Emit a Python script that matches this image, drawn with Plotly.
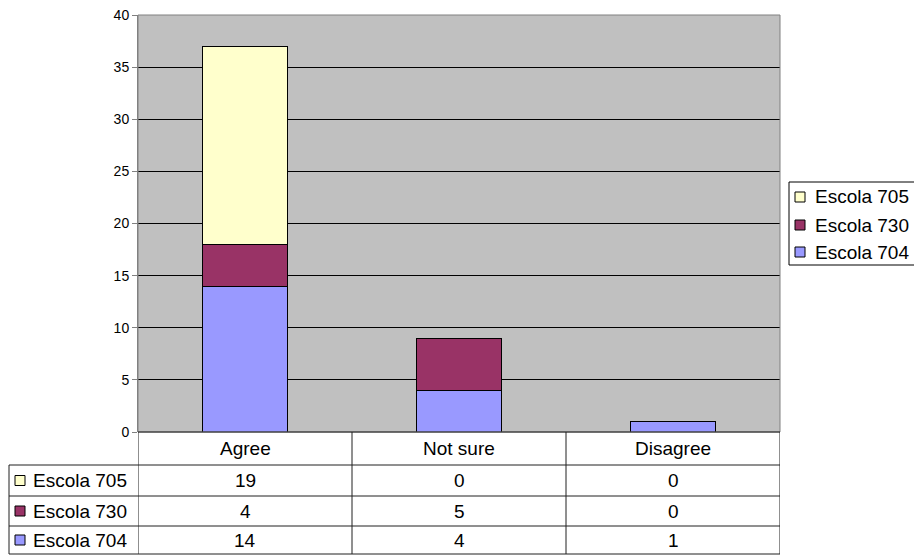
import plotly.graph_objects as go

# Survey responses per school
categories = ["Agree", "Not sure", "Disagree"]
escola_704 = [14, 4, 1]
escola_730 = [4, 5, 0]
escola_705 = [19, 0, 0]

# Stacking order bottom to top; table and legend list them top to bottom
series = [
    ("Escola 704", escola_704, "#9999FF"),
    ("Escola 730", escola_730, "#993366"),
    ("Escola 705", escola_705, "#FFFFCC"),
]
y_ticks = [0, 5, 10, 15, 20, 25, 30, 35, 40]

W, H = 914, 556
ML, MR, MT, MB = 138, 134, 15, 124
PW, PH = W - ML - MR, H - MT - MB
FONT = "Liberation Sans, Arial, sans-serif"


def px_x(px):
    return (px - ML) / PW


def px_y(py):
    return (H - MB - py) / PH


fig = go.Figure()
for name, vals, color in series:
    fig.add_trace(go.Bar(
        x=categories, y=vals, name=name, width=0.4,
        marker=dict(color=color, line=dict(color="black", width=1)),
        showlegend=False,
    ))

shapes = []
annotations = []
line_col = "#202020"


def label(x, y, text, xref="paper", xanchor="center"):
    return dict(x=x, xref=xref, y=y, yref="paper", text=text, showarrow=False,
                xanchor=xanchor, yanchor="middle",
                font=dict(size=19, color="black", family=FONT))


# Plot area frame
shapes.append(dict(type="rect", xref="paper", yref="paper", x0=0, x1=1, y0=0, y1=1,
                   line=dict(color="#808080", width=1), layer="above"))

# Data table under the chart
row_edges = [432, 465, 496, 526, 554]
table_left = 9
n = len(categories)
# horizontal rules
shapes.append(dict(type="line", xref="paper", yref="paper", x0=0, x1=1,
                   y0=px_y(row_edges[0]), y1=px_y(row_edges[0]), line=dict(color=line_col, width=1)))
for r in row_edges[1:]:
    shapes.append(dict(type="line", xref="paper", yref="paper", x0=px_x(table_left), x1=1,
                       y0=px_y(r), y1=px_y(r), line=dict(color=line_col, width=1)))
# vertical rules
shapes.append(dict(type="line", xref="paper", yref="paper", x0=px_x(table_left), x1=px_x(table_left),
                   y0=px_y(row_edges[1]), y1=px_y(row_edges[-1]), line=dict(color=line_col, width=1)))
for k in range(n + 1):
    shapes.append(dict(type="line", xref="x", yref="paper", x0=k - 0.5, x1=k - 0.5,
                       y0=px_y(row_edges[0]), y1=px_y(row_edges[-1]), line=dict(color=line_col, width=1)))

# category header row
for cat in categories:
    annotations.append(label(cat, px_y((row_edges[0] + row_edges[1]) / 2), cat, xref="x"))

# series rows
for i, (name, vals, color) in enumerate(reversed(series)):
    yc = (row_edges[i + 1] + row_edges[i + 2]) / 2
    shapes.append(dict(type="rect", xref="paper", yref="paper",
                       x0=px_x(15), x1=px_x(25), y0=px_y(yc + 5), y1=px_y(yc - 5),
                       fillcolor=color, line=dict(color="black", width=1)))
    annotations.append(label(px_x(31), px_y(yc), name, xanchor="left"))
    for cat, v in zip(categories, vals):
        annotations.append(label(cat, px_y(yc), str(v), xref="x"))

# Legend box at the right
leg_left, leg_top, leg_bottom = 789, 182, 265
shapes.append(dict(type="rect", xref="paper", yref="paper",
                   x0=px_x(leg_left), x1=px_x(W + 5), y0=px_y(leg_bottom), y1=px_y(leg_top),
                   fillcolor="white", line=dict(color="black", width=1)))
leg_rows = [197, 225, 252]
for yc, (name, vals, color) in zip(leg_rows, reversed(series)):
    shapes.append(dict(type="rect", xref="paper", yref="paper",
                       x0=px_x(795), x1=px_x(805), y0=px_y(yc + 5), y1=px_y(yc - 5),
                       fillcolor=color, line=dict(color="black", width=1)))
    annotations.append(label(px_x(813), px_y(yc), name, xanchor="left"))

fig.update_layout(
    width=W, height=H,
    margin=dict(l=ML, r=MR, t=MT, b=MB),
    barmode="stack",
    paper_bgcolor="white",
    plot_bgcolor="#C0C0C0",
    font=dict(family=FONT, color="black"),
    shapes=shapes,
    annotations=annotations,
    xaxis=dict(type="category", range=[-0.5, n - 0.5], showticklabels=False,
               showgrid=False, zeroline=False, showline=False, ticks=""),
    yaxis=dict(range=[0, 40], tickvals=y_ticks, showgrid=True, gridcolor="black", gridwidth=1,
               zeroline=False, showline=True, linecolor="#808080", linewidth=1,
               ticks="outside", ticklen=5, tickcolor="#808080", automargin=False,
               tickfont=dict(size=14, color="black", family=FONT)),
)

fig.write_html("out.html")
